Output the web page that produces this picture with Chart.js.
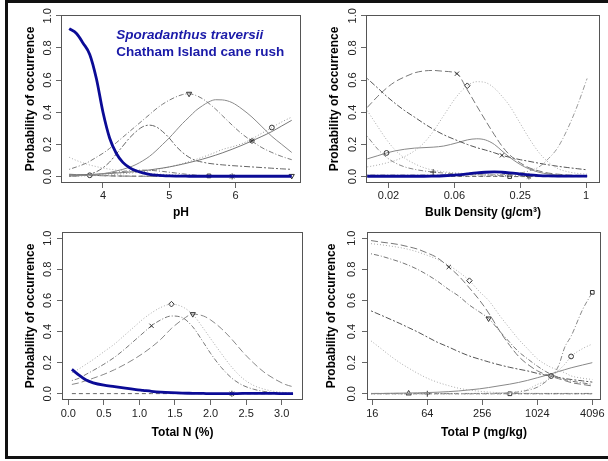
<!DOCTYPE html>
<html><head><meta charset="utf-8">
<script src="https://cdn.jsdelivr.net/npm/chart.js@4.4.1/dist/chart.umd.min.js"></script>
<style>
html,body{margin:0;padding:0;background:#fff;width:608px;height:461px;overflow:hidden;position:relative;}
#frame{position:absolute;left:5px;top:0;width:620px;height:453px;border:3px solid #111;}
canvas{position:absolute;}
</style></head><body>
<div id="frame"></div>
<canvas id="c1" width="297" height="217" style="left:8px;top:3px"></canvas>
<canvas id="c2" width="296" height="217" style="left:312px;top:3px"></canvas>
<canvas id="c3" width="297" height="220" style="left:8px;top:220px"></canvas>
<canvas id="c4" width="296" height="220" style="left:312px;top:220px"></canvas>
<script>
// ---------- shared text / ticks ----------
const yTitle = 'Probability of occurrence';
const yTickValues = [0, 0.2, 0.4, 0.6, 0.8, 1.0];
const speciesName = 'Sporadanthus traversii';
const commonName = 'Chatham Island cane rush';

// ---------- Panel 1 : pH ----------
const phTitle = 'pH';
const phTicks = [4, 5, 6];
const phTickLabels = ['4', '5', '6'];
const phX = [3.49,3.6,3.7,3.8,3.9,4.0,4.1,4.2,4.3,4.4,4.5,4.6,4.7,4.8,4.9,5.0,5.1,5.2,5.3,5.4,5.5,5.6,5.7,5.8,5.95,6.1,6.25,6.4,6.55,6.7,6.85];
const phSporadanthus = [0.92,0.89,0.83,0.76,0.61,0.40,0.24,0.145,0.088,0.056,0.036,0.023,0.014,0.009,0.006,0.004,0.003,0.003,0.002,0.002,0.002,0.002,0.002,0.002,0.002,0.002,0.002,0.002,0.002,0.002,0.002];
const phA = [0.045,0.06,0.075,0.095,0.12,0.145,0.175,0.21,0.245,0.28,0.315,0.35,0.385,0.42,0.45,0.475,0.495,0.51,0.515,0.505,0.485,0.455,0.42,0.38,0.32,0.265,0.22,0.18,0.15,0.125,0.105];
const phB = [0.003,0.005,0.007,0.01,0.013,0.018,0.025,0.035,0.045,0.058,0.075,0.098,0.125,0.16,0.2,0.24,0.285,0.33,0.37,0.41,0.44,0.465,0.478,0.477,0.46,0.42,0.37,0.31,0.25,0.2,0.15];
const phC = [0.002,0.004,0.008,0.015,0.03,0.055,0.09,0.14,0.19,0.24,0.28,0.31,0.32,0.31,0.28,0.24,0.19,0.15,0.12,0.1,0.09,0.082,0.077,0.073,0.068,0.064,0.06,0.056,0.052,0.048,0.045];
const phD = [0.01,0.011,0.012,0.013,0.015,0.017,0.019,0.022,0.025,0.028,0.032,0.036,0.041,0.047,0.053,0.06,0.068,0.077,0.087,0.097,0.108,0.12,0.133,0.147,0.17,0.195,0.222,0.25,0.28,0.315,0.35];
const phE = [0.002,0.003,0.004,0.005,0.007,0.009,0.011,0.014,0.017,0.021,0.025,0.03,0.036,0.043,0.051,0.06,0.07,0.081,0.093,0.106,0.12,0.135,0.151,0.168,0.185,0.205,0.235,0.27,0.305,0.34,0.37];
const phF = [0.12,0.1,0.085,0.072,0.062,0.053,0.046,0.04,0.035,0.03,0.026,0.022,0.019,0.016,0.014,0.012,0.01,0.009,0.008,0.007,0.006,0.005,0.004,0.004,0.003,0.003,0.002,0.002,0.002,0.001,0.001];
const phG = [0.015,0.012,0.01,0.008,0.006,0.005,0.004,0.003,0.003,0.002,0.002,0.002,0.001,0.001,0.001,0.001,0.001,0.001,0.001,0.001,0.001,0.001,0.001,0.001,0.001,0.001,0.001,0.001,0.001,0.001,0.001];
const phH = [0.005,0.006,0.008,0.01,0.013,0.017,0.022,0.027,0.032,0.036,0.039,0.04,0.039,0.036,0.032,0.027,0.022,0.017,0.013,0.009,0.006,0.004,0.003,0.002,0.001,0.001,0.001,0.001,0.001,0.001,0.001];
const phI = [0.01,0.01,0.009,0.008,0.007,0.006,0.005,0.004,0.003,0.003,0.002,0.002,0.002,0.001,0.001,0.001,0.001,0.001,0.001,0.001,0.001,0.001,0.001,0.001,0.001,0.001,0.001,0.001,0.002,0.003,0.004];

// ---------- Panel 2 : Bulk density ----------
const bdTitle = 'Bulk Density (g/cm\u00B3)';
const bdTicks = [0.015625, 0.0625, 0.25, 1];
const bdTickLabels = ['0.02', '0.06', '0.25', '1'];
const bdX = [0.0100,0.0125,0.015,0.018,0.022,0.027,0.033,0.04,0.05,0.066,0.082,0.1,0.12,0.145,0.17,0.2,0.25,0.3,0.37,0.45,0.55,0.68,0.83,1.02];
const bdSporadanthus = [0.002,0.002,0.002,0.002,0.002,0.002,0.002,0.003,0.005,0.01,0.017,0.023,0.027,0.029,0.027,0.023,0.016,0.01,0.006,0.004,0.003,0.003,0.003,0.003];
const bdA = [0.43,0.50,0.55,0.59,0.62,0.645,0.657,0.66,0.655,0.64,0.54,0.44,0.35,0.26,0.19,0.135,0.085,0.055,0.035,0.022,0.015,0.01,0.008,0.006];
const bdB = [0.06,0.072,0.085,0.1,0.125,0.16,0.21,0.28,0.38,0.50,0.565,0.59,0.585,0.55,0.5,0.44,0.33,0.24,0.15,0.09,0.05,0.03,0.02,0.015];
const bdC = [0.61,0.55,0.50,0.455,0.41,0.37,0.33,0.295,0.26,0.225,0.2,0.18,0.165,0.148,0.132,0.12,0.105,0.095,0.083,0.073,0.064,0.056,0.049,0.042];
const bdD = [0.11,0.13,0.147,0.16,0.17,0.177,0.18,0.183,0.19,0.21,0.228,0.235,0.228,0.2,0.16,0.12,0.075,0.048,0.027,0.016,0.01,0.007,0.005,0.004];
const bdE = [0.41,0.31,0.23,0.165,0.115,0.08,0.055,0.04,0.03,0.022,0.018,0.015,0.013,0.012,0.011,0.01,0.009,0.008,0.007,0.006,0.006,0.005,0.005,0.005];
const bdF = [0.25,0.17,0.12,0.085,0.06,0.045,0.035,0.028,0.022,0.017,0.014,0.012,0.01,0.008,0.007,0.006,0.005,0.005,0.004,0.004,0.004,0.004,0.004,0.004];
const bdG = [0.01,0.01,0.01,0.01,0.01,0.01,0.01,0.01,0.01,0.01,0.01,0.01,0.01,0.011,0.012,0.015,0.022,0.035,0.06,0.11,0.18,0.3,0.44,0.61];
const bdH = [0.001,0.001,0.001,0.001,0.001,0.001,0.001,0.001,0.001,0.001,0.001,0.001,0.001,0.001,0.001,0.0,0.0,0.0,0.0,0.0,0.0,0.0,0.0,0.0];
const bdI = [0.003,0.003,0.003,0.002,0.002,0.002,0.002,0.002,0.002,0.002,0.002,0.002,0.002,0.002,0.002,0.001,0.001,0.001,0.001,0.001,0.001,0.001,0.001,0.001];

// ---------- Panel 3 : Total N ----------
const nTitle = 'Total N (%)';
const nTicks = [0, 0.5, 1.0, 1.5, 2.0, 2.5, 3.0];
const nTickLabels = ['0.0', '0.5', '1.0', '1.5', '2.0', '2.5', '3.0'];
const nX = [0.05,0.15,0.25,0.35,0.5,0.65,0.8,0.95,1.05,1.17,1.3,1.45,1.6,1.75,1.9,2.0,2.15,2.3,2.45,2.6,2.75,2.9,3.05,3.16];
const nSporadanthus = [0.157,0.12,0.088,0.07,0.055,0.046,0.036,0.027,0.022,0.016,0.011,0.007,0.004,0.003,0.002,0.001,0.001,0.001,0.002,0.002,0.002,0.002,0.001,0.001];
const nA = [0.085,0.1,0.125,0.15,0.19,0.235,0.29,0.35,0.39,0.437,0.475,0.5,0.49,0.43,0.33,0.26,0.17,0.1,0.055,0.03,0.015,0.008,0.004,0.003];
const nB = [0.06,0.07,0.085,0.1,0.125,0.155,0.19,0.23,0.26,0.3,0.35,0.42,0.475,0.512,0.5,0.475,0.42,0.35,0.27,0.2,0.14,0.095,0.06,0.045];
const nC = [0.135,0.16,0.19,0.22,0.27,0.32,0.38,0.44,0.48,0.52,0.555,0.576,0.56,0.51,0.42,0.355,0.26,0.17,0.1,0.055,0.03,0.015,0.008,0.005];
const nD = [0.001,0.001,0.001,0.001,0.001,0.001,0.001,0.001,0.001,0.001,0.001,0.001,0.001,0.001,0.0,0.0,0.0,0.0,0.0,0.0,0.0,0.0,0.0,0.0];

// ---------- Panel 4 : Total P ----------
const pTitle = 'Total P (mg/kg)';
const pTicks = [16, 64, 256, 1024, 4096];
const pTickLabels = ['16', '64', '256', '1024', '4096'];
const pX = [15.5,20,25,32,40,50,64,82,110,140,185,240,300,400,512,640,800,1024,1250,1450,1750,2048,2400,3200,4096];
const pA = [0.985,0.975,0.968,0.958,0.945,0.93,0.905,0.875,0.815,0.76,0.68,0.6,0.52,0.4,0.31,0.24,0.19,0.148,0.125,0.112,0.097,0.085,0.072,0.06,0.05];
const pB = [0.965,0.958,0.95,0.94,0.928,0.912,0.89,0.865,0.825,0.785,0.727,0.655,0.6,0.5,0.42,0.35,0.29,0.225,0.19,0.17,0.15,0.135,0.115,0.1,0.092];
const pC = [0.9,0.885,0.868,0.848,0.826,0.8,0.765,0.725,0.67,0.63,0.57,0.525,0.484,0.4,0.33,0.27,0.225,0.178,0.145,0.125,0.105,0.092,0.082,0.07,0.06];
const pD = [0.533,0.505,0.48,0.452,0.425,0.398,0.365,0.332,0.3,0.272,0.243,0.222,0.205,0.185,0.17,0.158,0.147,0.131,0.12,0.114,0.105,0.098,0.092,0.083,0.075];
const pE = [0.34,0.29,0.245,0.2,0.165,0.132,0.1,0.075,0.052,0.036,0.024,0.016,0.011,0.007,0.005,0.004,0.003,0.002,0.001,0.001,0.001,0.001,0.001,0.001,0.001];
const pF = [0.002,0.002,0.003,0.004,0.005,0.006,0.008,0.01,0.014,0.018,0.025,0.032,0.04,0.052,0.062,0.073,0.086,0.103,0.117,0.128,0.143,0.155,0.167,0.185,0.2];
const pG = [0.001,0.001,0.001,0.001,0.001,0.001,0.001,0.001,0.001,0.001,0.001,0.002,0.002,0.004,0.008,0.015,0.028,0.06,0.08,0.11,0.15,0.19,0.24,0.29,0.32];
const pH = [0.001,0.001,0.001,0.001,0.001,0.001,0.001,0.001,0.001,0.001,0.001,0.002,0.002,0.003,0.006,0.012,0.022,0.042,0.075,0.11,0.18,0.3,0.37,0.54,0.652];
const pI = [0.002,0.002,0.002,0.002,0.002,0.002,0.002,0.002,0.002,0.002,0.002,0.002,0.002,0.002,0.002,0.002,0.002,0.002,0.002,0.002,0.002,0.002,0.002,0.002,0.002];
const pJ = [0.0,0.0,0.0,0.0,0.0,0.0,0.0,0.0,0.0,0.0,0.0,0.0,0.0,0.0,0.0,0.0,0.0,0.0,0.0,0.0,0.0,0.0,0.0,0.0,0.0];

// ---------- styling helpers ----------
const FONT = '"Liberation Sans", Arial, Helvetica, sans-serif';
const BLUE = '#0b0b96';
const DASH = { solid: [], dashed: [4, 3], dotted: [1, 2], dotdash: [1, 2, 5, 2], longdash: [7, 3], twodash: [2, 2, 6, 2] };
const MARK_SIZE = { circle: 2.4, rect: 2.6, rectRot: 2.8, triangle: 3, crossRot: 3, cross: 3, star: 3 };

function curve(xs, ys, look) {
  return {
    data: xs.map((x, i) => ({ x: x, y: ys[i] })),
    borderColor: look.color,
    borderWidth: look.width || 1,
    borderDash: DASH[look.dash || 'solid'],
    pointStyle: look.marker || 'circle',
    pointRadius: c => (look.marker && c.dataIndex === look.at) ? MARK_SIZE[look.marker] : 0,
    pointHoverRadius: 0,
    pointRotation: look.rot || 0,
    pointBorderColor: '#333',
    pointBackgroundColor: 'rgba(255,255,255,0)',
    pointBorderWidth: 1,
    cubicInterpolationMode: 'monotone',
    fill: false
  };
}

const boxPlugin = {
  id: 'box',
  afterDraw(chart) {
    const { ctx, chartArea: a } = chart;
    ctx.save();
    ctx.strokeStyle = '#555';
    ctx.lineWidth = 1;
    ctx.strokeRect(Math.round(a.left) + 0.5, Math.round(a.top) + 0.5, Math.round(a.right - a.left) - 1, Math.round(a.bottom - a.top) - 1);
    ctx.restore();
  }
};

const labelPlugin = {
  id: 'speciesLabel',
  afterDatasetsDraw(chart) {
    const { ctx, scales } = chart;
    const x = scales.x.getPixelForValue(4.2);
    ctx.save();
    ctx.fillStyle = '#1a1aa8';
    ctx.textBaseline = 'middle';
    ctx.textAlign = 'left';
    ctx.font = 'italic bold 13.5px ' + FONT;
    ctx.fillText(speciesName, x, scales.y.getPixelForValue(0.881));
    ctx.font = 'bold 13.5px ' + FONT;
    ctx.fillText(commonName, x, scales.y.getPixelForValue(0.775));
    ctx.restore();
  }
};

function makeChart(id, cfg) {
  return new Chart(document.getElementById(id), {
    type: 'line',
    data: { datasets: cfg.datasets },
    options: {
      responsive: false, animation: false, devicePixelRatio: 1, events: [],
      layout: { padding: { left: 0, top: cfg.padTop, right: cfg.padRight, bottom: 0 } },
      plugins: { legend: { display: false }, tooltip: { enabled: false } },
      scales: {
        x: {
          type: cfg.xType, min: cfg.xMin, max: cfg.xMax,
          afterBuildTicks: s => { s.ticks = cfg.xTicks.map(v => ({ value: v })); },
          afterFit: s => { s.height = cfg.xHeight; },
          ticks: { callback: (v, i) => cfg.xLabels[i], autoSkip: false, minRotation: 0, maxRotation: 0,
                   font: { family: FONT, size: 11 }, color: '#222', padding: cfg.xPad },
          grid: { drawOnChartArea: false, drawTicks: true, tickLength: 5, color: '#666' },
          border: { display: false },
          title: { display: true, text: cfg.xTitle, color: '#000', padding: { top: 0, bottom: 0 },
                   font: { family: FONT, size: 12, weight: 'bold' } }
        },
        y: {
          type: 'linear', min: -0.04, max: cfg.yMax,
          afterBuildTicks: s => { s.ticks = yTickValues.map(v => ({ value: v })); },
          afterFit: s => { s.width = cfg.yWidth; },
          ticks: { callback: v => Number(v).toFixed(1), minRotation: 90, maxRotation: 90, crossAlign: 'center',
                   font: { family: FONT, size: 11 }, color: '#222', padding: cfg.yPad },
          grid: { drawOnChartArea: false, drawTicks: true, tickLength: 5, color: '#666' },
          border: { display: false },
          title: { display: true, text: yTitle, color: '#000', padding: { top: cfg.yTitlePad, bottom: 0 },
                   font: { family: FONT, size: 12, weight: 'bold' } }
        }
      }
    },
    plugins: [boxPlugin].concat(cfg.extra || [])
  });
}

// ---------- build panels ----------
makeChart('c1', {
  xType: 'linear', xMin: 3.366, xMax: 6.99, xTicks: phTicks, xLabels: phTickLabels, xTitle: phTitle,
  yMax: 1.005, padTop: 12, padRight: 2, yWidth: 53, xHeight: 37, xPad: 1.4, yPad: 0, yTitlePad: 15,
  extra: [labelPlugin],
  datasets: [
    curve(phX, phSporadanthus, { color: BLUE, width: 2.8 }),
    curve(phX, phA, { color: '#7a7a7a', dash: 'dotdash', marker: 'triangle', rot: 180, at: 18 }),
    curve(phX, phB, { color: '#8a8a8a', dash: 'solid' }),
    curve(phX, phC, { color: '#666', dash: 'twodash' }),
    curve(phX, phD, { color: '#777', dash: 'solid', marker: 'star', at: 26 }),
    curve(phX, phE, { color: '#999', dash: 'dotted', marker: 'circle', at: 28 }),
    curve(phX, phF, { color: '#aaa', dash: 'dotted' }),
    curve(phX, phG, { color: '#888', dash: 'longdash', marker: 'circle', at: 3 }),
    curve(phX, phH, { color: '#777', dash: 'dotdash', marker: 'rect', at: 21 }),
    curve(phX, phI, { color: '#666', dash: 'dashed', marker: 'star', at: 24 }),
    curve(phX, phI, { color: '#999', dash: 'dotted', marker: 'triangle', rot: 180, at: 30 })
  ]
});

makeChart('c2', {
  xType: 'logarithmic', xMin: 0.00974, xMax: 1.338, xTicks: bdTicks, xLabels: bdTickLabels, xTitle: bdTitle,
  yMax: 1.005, padTop: 12, padRight: 8, yWidth: 54, xHeight: 37, xPad: 1.4, yPad: 0, yTitlePad: 15,
  datasets: [
    curve(bdX, bdSporadanthus, { color: BLUE, width: 2.8 }),
    curve(bdX, bdA, { color: '#777', dash: 'longdash', marker: 'crossRot', at: 9 }),
    curve(bdX, bdB, { color: '#aaa', dash: 'dotted', marker: 'rectRot', at: 10 }),
    curve(bdX, bdC, { color: '#555', dash: 'twodash', marker: 'crossRot', at: 14 }),
    curve(bdX, bdD, { color: '#888', dash: 'solid', marker: 'circle', at: 2 }),
    curve(bdX, bdE, { color: '#aaa', dash: 'dotted' }),
    curve(bdX, bdF, { color: '#888', dash: 'dotdash', marker: 'cross', at: 7 }),
    curve(bdX, bdG, { color: '#999', dash: 'dotdash' }),
    curve(bdX, bdH, { color: '#666', dash: 'dashed', marker: 'rect', at: 15 }),
    curve(bdX, bdI, { color: '#888', dash: 'dotted', marker: 'star', at: 17 })
  ]
});

makeChart('c3', {
  xType: 'linear', xMin: -0.089, xMax: 3.30, xTicks: nTicks, xLabels: nTickLabels, xTitle: nTitle,
  yMax: 1.04, padTop: 12, padRight: 2, yWidth: 54, xHeight: 40, xPad: 2.4, yPad: 1, yTitlePad: 15,
  datasets: [
    curve(nX, nSporadanthus, { color: BLUE, width: 2.8 }),
    curve(nX, nA, { color: '#777', dash: 'dotdash', marker: 'crossRot', at: 9 }),
    curve(nX, nB, { color: '#888', dash: 'longdash', marker: 'triangle', rot: 180, at: 13 }),
    curve(nX, nC, { color: '#aaa', dash: 'dotted', marker: 'rectRot', at: 11 }),
    curve(nX, nD, { color: '#666', dash: 'dashed', marker: 'star', at: 17 })
  ]
});

makeChart('c4', {
  xType: 'logarithmic', xMin: 14.0, xMax: 5100, xTicks: pTicks, xLabels: pTickLabels, xTitle: pTitle,
  yMax: 1.04, padTop: 12, padRight: 7, yWidth: 55, xHeight: 40, xPad: 2.4, yPad: 2, yTitlePad: 12,
  datasets: [
    curve(pX, pA, { color: '#777', dash: 'longdash', marker: 'crossRot', at: 8 }),
    curve(pX, pB, { color: '#aaa', dash: 'dotted', marker: 'rectRot', at: 10 }),
    curve(pX, pC, { color: '#777', dash: 'dotdash', marker: 'triangle', rot: 180, at: 12 }),
    curve(pX, pD, { color: '#555', dash: 'twodash', marker: 'circle', at: 19 }),
    curve(pX, pE, { color: '#aaa', dash: 'dotted' }),
    curve(pX, pF, { color: '#888', dash: 'solid' }),
    curve(pX, pG, { color: '#aaa', dash: 'dotted', marker: 'circle', at: 22 }),
    curve(pX, pH, { color: '#888', dash: 'dotdash', marker: 'rect', at: 24 }),
    curve(pX, pI, { color: '#777', dash: 'dotdash', marker: 'triangle', at: 4 }),
    curve(pX, pJ, { color: '#888', dash: 'dashed', marker: 'cross', at: 6 }),
    curve(pX, pJ, { color: '#999', dash: 'dotted', marker: 'rect', at: 14 })
  ]
});
</script>
</body></html>
